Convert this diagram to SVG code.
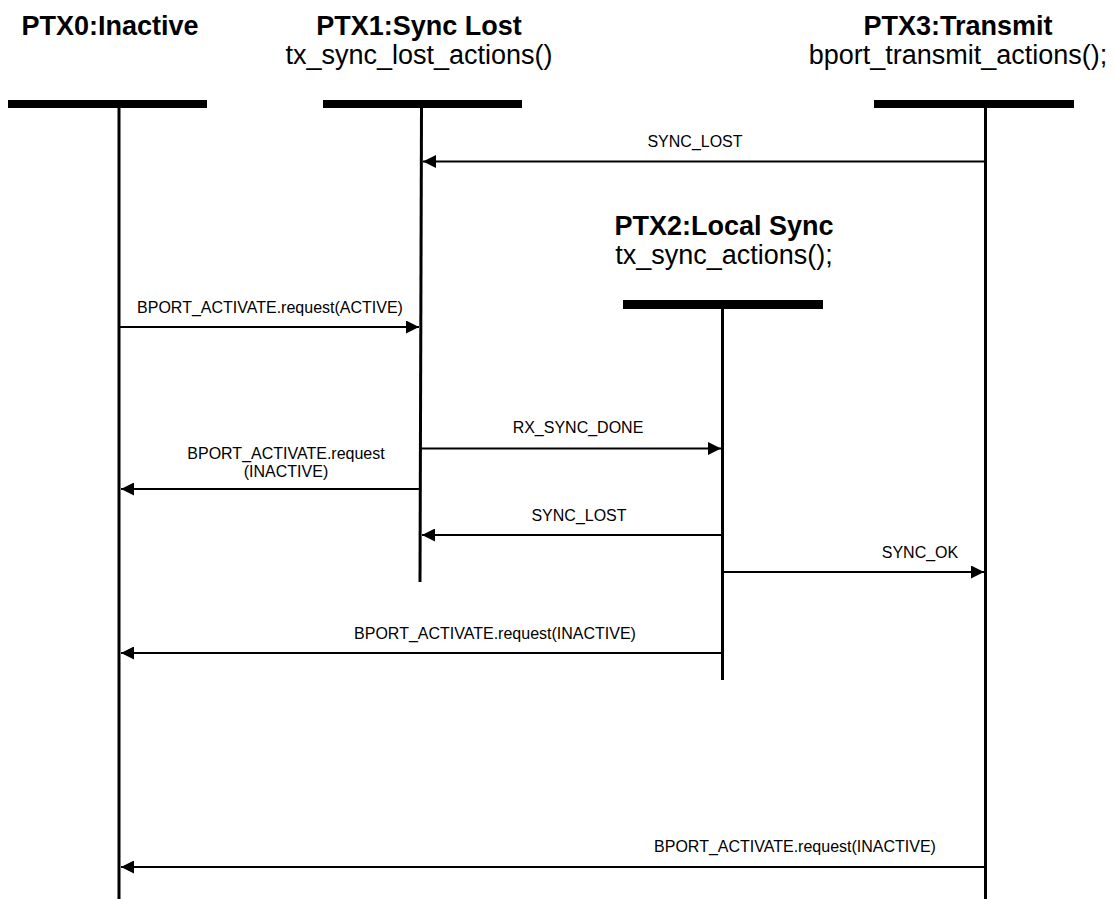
<svg xmlns="http://www.w3.org/2000/svg" width="1114" height="899" viewBox="0 0 1114 899">
<style>
.title{font-family:"Liberation Sans",Arial,sans-serif;font-size:27px;font-weight:bold;fill:#000;text-anchor:middle}
.sub{font-family:"Liberation Sans",Arial,sans-serif;font-size:27px;fill:#000;text-anchor:middle}
.lbl{font-family:"Liberation Sans",Arial,sans-serif;font-size:16px;fill:#000;text-anchor:middle}
.bar{fill:#000}
.life{stroke:#000;stroke-width:3;fill:none}
.msg{stroke:#000;stroke-width:2;fill:none;marker-end:url(#ah)}
</style>
<defs>
<marker id="ah" viewBox="0 0 13 13" refX="13" refY="6.5" markerWidth="13" markerHeight="13" markerUnits="userSpaceOnUse" orient="auto">
<path d="M0,0 L13,6.5 L0,13 Z" fill="#000"/>
</marker>
</defs>
<rect width="1114" height="899" fill="#fff"/>
<g id="ptx0">
<text class="title" x="110" y="35">PTX0:Inactive</text>
<rect class="bar" x="8" y="100" width="199" height="8"/>
<line class="life" x1="119" y1="108" x2="119" y2="899"/>
</g>
<g id="ptx1">
<text class="title" x="419" y="35">PTX1:Sync Lost</text>
<text class="sub" x="419" y="64">tx_sync_lost_actions()</text>
<rect class="bar" x="323" y="100" width="199" height="8"/>
<line class="life" x1="421.5" y1="108" x2="420" y2="582"/>
</g>
<g id="ptx2">
<text class="title" x="724" y="235">PTX2:Local Sync</text>
<text class="sub" x="724" y="264">tx_sync_actions();</text>
<rect class="bar" x="623" y="300" width="200" height="9"/>
<line class="life" x1="722.5" y1="309" x2="722.5" y2="680"/>
</g>
<g id="ptx3">
<text class="title" x="958" y="35">PTX3:Transmit</text>
<text class="sub" x="958" y="64">bport_transmit_actions();</text>
<rect class="bar" x="874" y="100" width="200" height="8"/>
<line class="life" x1="985.5" y1="108" x2="985.5" y2="899"/>
</g>
<g id="connectors">
<line class="msg" x1="984" y1="161.5" x2="423" y2="161.5"/>
<text class="lbl" x="695" y="147">SYNC_LOST</text>
<line class="msg" x1="120" y1="327" x2="419" y2="327"/>
<text class="lbl" x="270" y="313">BPORT_ACTIVATE.request(ACTIVE)</text>
<line class="msg" x1="422" y1="448.5" x2="721" y2="448.5"/>
<text class="lbl" x="578" y="433">RX_SYNC_DONE</text>
<line class="msg" x1="419" y1="489" x2="121" y2="489"/>
<text class="lbl" x="286" y="459">BPORT_ACTIVATE.request</text>
<text class="lbl" x="286" y="477">(INACTIVE)</text>
<line class="msg" x1="721" y1="535" x2="422" y2="535"/>
<text class="lbl" x="579" y="521">SYNC_LOST</text>
<line class="msg" x1="724" y1="572" x2="984" y2="572"/>
<text class="lbl" x="920" y="558">SYNC_OK</text>
<line class="msg" x1="721" y1="653" x2="121" y2="653"/>
<text class="lbl" x="495" y="639">BPORT_ACTIVATE.request(INACTIVE)</text>
<line class="msg" x1="984" y1="867" x2="121" y2="867"/>
<text class="lbl" x="795" y="852">BPORT_ACTIVATE.request(INACTIVE)</text>
</g>
</svg>
